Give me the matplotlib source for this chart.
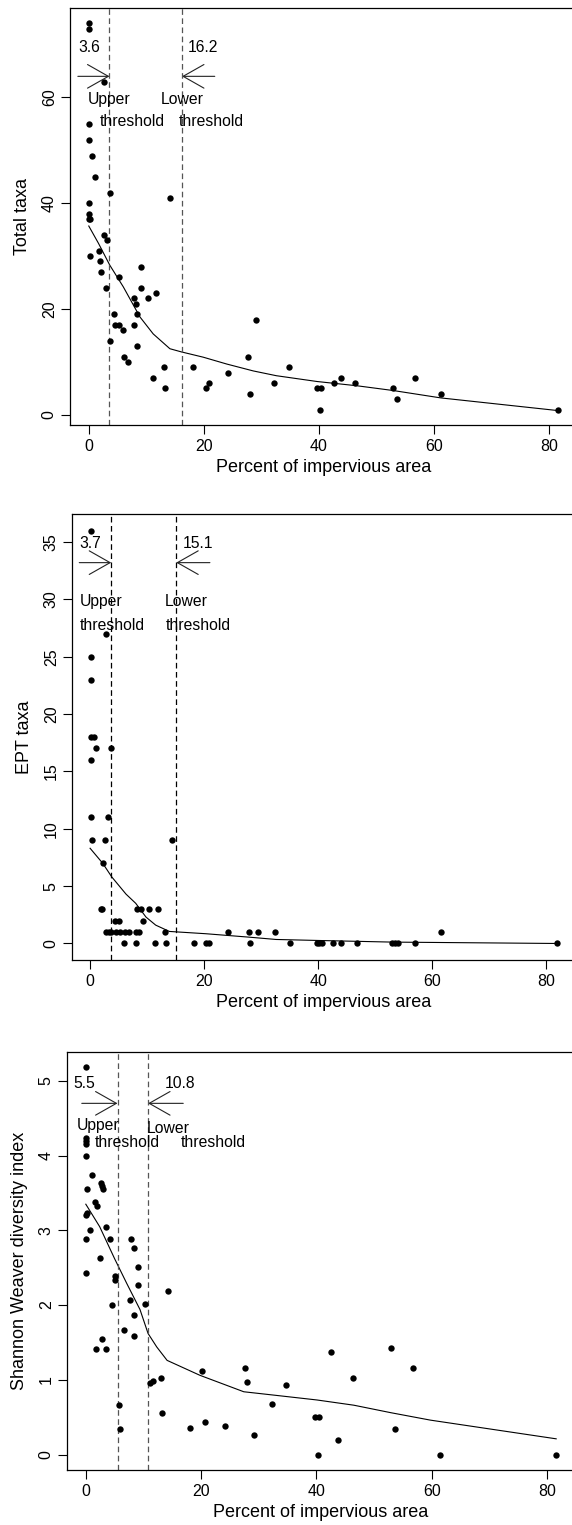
import matplotlib
matplotlib.use("Agg")
import matplotlib.pyplot as plt
from matplotlib.patches import FancyArrowPatch

plt.rcParams['font.family'] = ['Liberation Sans', 'DejaVu Sans']

# ---- data (x = percent impervious area) ----
# Total taxa
tt_x = [0, 0, 2.7, 0, 0, 0.6, 1.1, 3.7, 14.1, 0, 0, 0.2, 0, 2.6, 3.1, 0.2, 1.7, 1.9, 2.1, 3.0,
        5.2, 9.1, 9.0, 11.7, 10.3, 7.9, 8.2, 8.4, 4.3, 4.6, 5.2, 5.9, 7.8, 3.65, 8.4, 6.1, 6.8, 13.0, 11.2, 13.2,
        18.1, 20.3, 20.9, 24.2, 27.7, 28.1, 29.1, 32.2, 34.8, 39.7, 40.4, 40.2, 42.6, 43.8, 46.3, 52.9, 53.6, 56.7, 61.2, 81.6]
tt_y = [74, 73, 63, 55, 52, 49, 45, 42, 41, 40, 38, 37, 37, 34, 33, 30, 31, 29, 27, 24,
        26, 28, 24, 23, 22, 22, 21, 19, 19, 17, 17, 16, 17, 14, 13, 11, 10, 9, 7, 5,
        9, 5, 6, 8, 11, 4, 18, 6, 9, 5, 5, 1, 6, 7, 6, 5, 3, 7, 4, 1]
tt_fit_x = [0, 1.7, 3.65, 6, 8.9, 11.2, 14.1, 16.1, 19.9, 24, 28.6, 32.6, 39.7, 46.6, 52.9, 61.2, 81.6]
tt_fit_y = [35.7, 32.4, 28.3, 24.2, 18.5, 15.3, 12.5, 11.9, 10.9, 9.6, 8.3, 7.4, 6.3, 5.5, 4.6, 3.2, 0.8]

# EPT taxa
ept_x = [0.1, 2.75, 0.2, 0.2, 0.2, 0.65, 1.05, 3.7, 0.2, 0.2, 3.1, 0.35, 2.6, 14.3, 2.2, 1.9, 2.1,
         8.2, 8.9, 10.3, 11.9, 9.2, 4.3, 5.1,
         2.75, 3.3, 3.65, 4.6, 5.3, 6.1, 6.8, 8.0, 8.6, 13.2, 24.2, 27.9, 29.4, 32.4, 61.5,
         5.9, 8.0, 11.35, 13.3, 18.2, 20.3, 20.9, 28.1, 35.0, 39.7, 40.2, 40.6, 42.6, 44.0, 46.7,
         53.0, 53.5, 53.9, 57.0, 81.9]
ept_y = [36, 27, 25, 23, 18, 18, 17, 17, 16, 11, 11, 9, 9, 9, 7, 3, 3,
         3, 3, 3, 3, 2, 2, 2,
         1, 1, 1, 1, 1, 1, 1, 1, 1, 1, 1, 1, 1, 1, 1,
         0, 0, 0, 0, 0, 0, 0, 0, 0, 0, 0, 0, 0, 0, 0,
         0, 0, 0, 0, 0]
ept_fit_x = [0, 2.2, 3.8, 6.3, 8.0, 9.8, 11.5, 13.9, 20.3, 27.9, 32.6, 40.2, 53, 81.9]
ept_fit_y = [8.3, 7.0, 5.8, 4.3, 3.5, 2.3, 1.6, 1.05, 0.85, 0.55, 0.35, 0.26, 0.12, 0.0]

# Shannon Weaver diversity index
sw_x = [0, 0, 0, 0, 0, 1.05, 2.6, 2.85, 3.0, 0.17, 1.6, 1.9, 0.17, 0, 3.5, 0.7, 0, 4.2, 7.8, 8.35,
        2.4, 0, 5.0, 5.1, 9.0, 9.0, 14.3, 4.6, 7.7, 10.3, 8.35, 6.6, 8.35, 2.85, 1.8, 3.5,
        20.2, 27.7, 28.0, 11.2, 11.7, 13.0, 34.8, 32.3, 5.7, 13.2, 18.1, 20.7, 24.1, 29.2, 6.0,
        39.7, 40.4, 40.2, 42.6, 43.8, 46.4, 52.9, 53.6, 56.7, 61.4, 81.6]
sw_y = [5.18, 4.24, 4.20, 4.15, 4.0, 3.74, 3.63, 3.59, 3.56, 3.55, 3.38, 3.32, 3.23, 3.20, 3.04, 3.0, 2.88, 2.88, 2.88, 2.77,
        2.63, 2.43, 2.39, 2.33, 2.51, 2.27, 2.19, 2.0, 2.07, 2.02, 1.87, 1.66, 1.58, 1.54, 1.41, 1.41,
        1.12, 1.16, 0.97, 0.96, 0.99, 1.02, 0.93, 0.67, 0.66, 0.56, 0.36, 0.44, 0.38, 0.26, 0.34,
        0.50, 0.50, 0.0, 1.37, 0.19, 1.02, 1.43, 0.34, 1.16, 0.0, 0.0]
sw_fit_x = [0, 2.4, 5.0, 7.1, 9.4, 10.8, 12.3, 14.1, 19.8, 27.4, 33.2, 40.1, 46.5, 52.9, 59.8, 81.6]
sw_fit_y = [3.35, 3.05, 2.62, 2.29, 1.94, 1.62, 1.44, 1.26, 1.06, 0.84, 0.79, 0.73, 0.66, 0.56, 0.46, 0.21]

x_ticks = [0, 20, 40, 60, 80]

W, H = 572, 1525
fig = plt.figure(figsize=(W / 100, H / 100), dpi=100)


def px_axes(left, top, right, bottom):
    # axes box given in pixels of the final image
    return fig.add_axes([left / W, 1 - bottom / H, (right - left) / W, (bottom - top) / H])


def r_lim(vals):
    # R style 4 percent padding
    lo, hi = min(vals), max(vals)
    pad = 0.04 * (hi - lo)
    return lo - pad, hi + pad


def arrow(ax, x0, x1, y):
    ax.add_patch(FancyArrowPatch((x0, y), (x1, y), arrowstyle='->,head_length=15,head_width=8.5',
                                 mutation_scale=1, shrinkA=0, shrinkB=0, lw=0.8, color='#222222'))


def panel(ax, x, y, fx, fy, yticks, ylabel, thr, dcol):
    ax.scatter(x, y, s=21, color='black', zorder=3, linewidths=0)
    ax.plot(fx, fy, color='black', lw=0.8)
    for t in thr:
        ax.axvline(t, color=dcol, lw=0.9, linestyle=(0, (4.5, 2.8)))
    ax.set_xlim(r_lim(x))
    ax.set_ylim(r_lim(y))
    ax.set_xticks(x_ticks)
    ax.set_yticks(yticks)
    ax.tick_params(length=6.5, width=0.8, labelsize=11.5, direction='out')
    ax.tick_params(axis='x', pad=3.5)
    ax.tick_params(axis='y', pad=3, labelrotation=90)
    for lbl in ax.get_yticklabels():
        lbl.set_va('center')
    for s in ax.spines.values():
        s.set_linewidth(0.9)
    # right edge of the box falls outside the image in the original
    ax.spines['right'].set_visible(False)
    ax.set_xlabel('Percent of impervious area', fontsize=13, labelpad=4)
    ax.set_ylabel(ylabel, fontsize=13, labelpad=8)


def note(ax, x, y, s):
    ax.text(x, y, s, fontsize=11.3, ha='left', va='center')


# ---- Total taxa ----
ax1 = px_axes(70, 8, 577, 425)
panel(ax1, tt_x, tt_y, tt_fit_x, tt_fit_y, [0, 20, 40, 60], 'Total taxa', [3.6, 16.2], '#555555')
note(ax1, -1.9, 69.5, '3.6')
note(ax1, 17.2, 69.5, '16.2')
arrow(ax1, -1.9, 3.6, 64)
arrow(ax1, 21.9, 16.2, 64)
note(ax1, -0.2, 59.6, 'Upper')
note(ax1, 1.9, 55.4, 'threshold')
note(ax1, 12.5, 59.6, 'Lower')
note(ax1, 15.65, 55.4, 'threshold')

# ---- EPT taxa ----
ax2 = px_axes(72, 514, 576, 960)
panel(ax2, ept_x, ept_y, ept_fit_x, ept_fit_y, [0, 5, 10, 15, 20, 25, 30, 35], 'EPT taxa', [3.7, 15.1], 'black')
note(ax2, -1.9, 34.9, '3.7')
note(ax2, 16.3, 34.9, '15.1')
arrow(ax2, -1.9, 3.7, 33.2)
arrow(ax2, 21.0, 15.1, 33.2)
note(ax2, -1.9, 29.8, 'Upper')
note(ax2, -1.9, 27.7, 'threshold')
note(ax2, 13.1, 29.8, 'Lower')
note(ax2, 13.3, 27.7, 'threshold')

# ---- Shannon Weaver ----
ax3 = px_axes(67, 1052, 575, 1470)
panel(ax3, sw_x, sw_y, sw_fit_x, sw_fit_y, [0, 1, 2, 3, 4, 5], 'Shannon Weaver diversity index', [5.5, 10.8], '#555555')
note(ax3, -2.1, 4.96, '5.5')
note(ax3, 13.7, 4.96, '10.8')
arrow(ax3, -0.7, 5.5, 4.70)
arrow(ax3, 16.9, 10.8, 4.70)
note(ax3, -1.6, 4.40, 'Upper')
note(ax3, 1.6, 4.17, 'threshold')
note(ax3, 10.6, 4.37, 'Lower')
note(ax3, 16.5, 4.17, 'threshold')

fig.savefig('out.png', dpi=100)
